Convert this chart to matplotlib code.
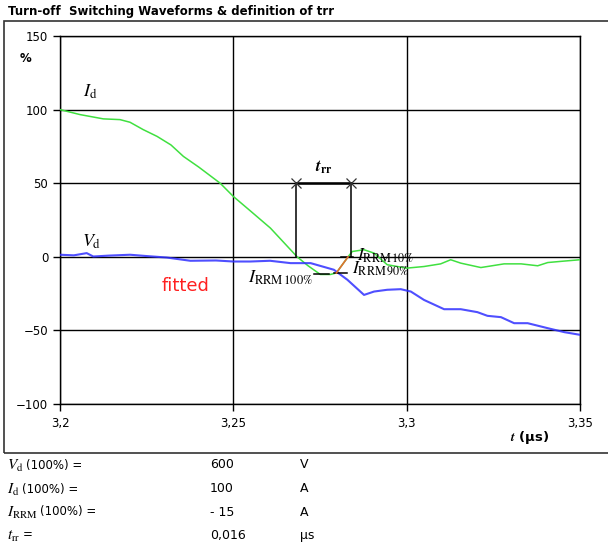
import matplotlib
matplotlib.use("Agg")
import matplotlib.pyplot as plt
from matplotlib.patches import Rectangle

plt.rcParams['font.family'] = ['DejaVu Sans']
plt.rcParams['mathtext.fontset'] = 'stix'

# Diode turn-off waveforms (% of nominal) vs time (us)
t_id = [3.2, 3.2058, 3.2125, 3.2173, 3.2202, 3.224, 3.228, 3.232, 3.2356, 3.24,
        3.2462, 3.25, 3.255, 3.2607, 3.2665, 3.2684, 3.2715, 3.2751, 3.278, 3.2797,
        3.2831, 3.2843, 3.2877, 3.2906, 3.2944, 3.3, 3.305, 3.3098, 3.3127, 3.3156,
        3.3214, 3.3281, 3.333, 3.3378, 3.3407, 3.345, 3.35]
i_d = [100, 96.6, 93.7, 93.2, 91.4, 86.4, 81.8, 76, 68.2, 61,
       50, 41, 31, 19.5, 4.8, 0, -6, -12, -12, -11,
       0, 3.6, 4.8, 2.5, -5.4, -7.7, -6.6, -4.8, -2, -4.3,
       -7.3, -4.8, -4.8, -6.1, -3.9, -3, -2]

t_vd = [3.2, 3.204, 3.2077, 3.2096, 3.214, 3.2202, 3.225, 3.2308, 3.2376, 3.245,
        3.25, 3.2549, 3.2606, 3.2665, 3.2723, 3.279, 3.2829, 3.2877, 3.2906, 3.2944,
        3.2983, 3.3012, 3.305, 3.3108, 3.3156, 3.3204, 3.3233, 3.3272, 3.331, 3.3349,
        3.3407, 3.3455, 3.35]
v_d = [1.4, 1.0, 2.5, 0.2, 0.8, 1.4, 0.5, -0.5, -2.7, -2.5,
       -3.2, -3.2, -2.7, -4.3, -4.3, -8.8, -15.6, -25.9, -23.6, -22.4,
       -22, -23.6, -29.3, -35.6, -35.6, -37.6, -40.1, -41, -45.1, -45.1,
       -48.5, -51.2, -53]

# trr construction
t_start, t_end = 3.268, 3.284
trr_level = 50
irrm_level = -12
irrm90 = (3.2797, -11)
irrm10 = (3.2831, 0)

# parameter table: symbol, rest of label, value, unit
table_symbols = [r'$V_\mathrm{d}$', r'$I_\mathrm{d}$', r'$I_\mathrm{RRM}$', r'$t_\mathrm{rr}$']
table_suffix = ['(100%) =', '(100%) =', '(100%) =', '=']
table_values = ['600', '100', '- 15', '0,016']
table_units = ['V', 'A', 'A', 'µs']

fig = plt.figure(figsize=(6.08, 5.45), dpi=100)
fig.patches.append(Rectangle((4 / 608, 1 - 453 / 545), 610 / 608, (453 - 21) / 545,
                             transform=fig.transFigure, fill=False,
                             edgecolor='#333333', linewidth=1.2))
fig.text(8 / 608, 1 - 12 / 545, 'Turn-off  Switching Waveforms & definition of trr',
         fontsize=8.5, fontweight='bold', va='center', ha='left')

ax = fig.add_axes([60 / 608, 1 - 404 / 545, 520 / 608, 368 / 545])
ax.plot(t_id, i_d, color='#40e040', linewidth=1.1, zorder=3)
ax.plot(t_vd, v_d, color='#3030ff', linewidth=1.5, alpha=0.85, zorder=3)

# trr markers
ax.plot([t_start, t_start], [0, trr_level], color='black', linewidth=1.1, zorder=4)
ax.plot([t_end, t_end], [0, trr_level], color='black', linewidth=1.1, zorder=4)
ax.plot([t_start, t_end], [trr_level, trr_level], color='black', linewidth=1.8, zorder=4)
ax.plot([t_start, t_end], [trr_level, trr_level], linestyle='none', marker='x',
        color='#333333', markersize=7, markeredgewidth=0.9, zorder=5)
ax.text((t_start + t_end) / 2, 55, r'$\boldsymbol{t}_\mathbf{rr}$', fontsize=12,
        ha='center', va='bottom')

# IRRM reference lines
ax.plot([3.2732, 3.2776], [irrm_level, irrm_level], color='black', linewidth=1.1, zorder=4)
ax.plot([3.2790, 3.2829], [irrm90[1], irrm90[1]], color='black', linewidth=1.1, zorder=4)
ax.plot([3.2810, 3.2845], [irrm10[1], irrm10[1]], color='black', linewidth=1.1, zorder=4)
ax.plot([irrm90[0], irrm10[0]], [irrm90[1], irrm10[1]], color='#e07030', linewidth=1.2, zorder=4)

ax.text(3.2730, -14, r'$I_\mathrm{RRM\,100\%}$', fontsize=13, ha='right', va='center')
ax.text(3.2858, 0.5, r'$I_\mathrm{RRM\,10\%}$', fontsize=12.5, ha='left', va='center')
ax.text(3.2843, -8.5, r'$I_\mathrm{RRM\,90\%}$', fontsize=12.5, ha='left', va='center')

ax.text(3.2087, 112, r'$I_\mathrm{d}$', fontsize=13, ha='center', va='center')
ax.text(3.2090, 10.5, r'$V_\mathrm{d}$', fontsize=13, ha='center', va='center')
ax.text(3.2363, -20, 'fitted', fontsize=13, color='#ff2020', ha='center', va='center')

ax.set_xlim(3.2, 3.35)
ax.set_ylim(-100, 150)
ax.set_xticks([3.2, 3.25, 3.3, 3.35])
ax.set_xticklabels(['3,2', '3,25', '3,3', '3,35'])
ax.set_yticks([-100, -50, 0, 50, 100, 150])
ax.grid(True, color='black', linewidth=1.0)
ax.set_axisbelow(True)
for s in ax.spines.values():
    s.set_color('black')
    s.set_linewidth(1.0)
ax.tick_params(axis='both', direction='out', length=5, width=1, labelsize=8.5, colors='black')
ax.tick_params(axis='x', pad=4)

fig.text(20 / 608, 1 - 58 / 545, '%', fontsize=8.5, fontweight='bold', ha='left', va='center')
fig.text(530 / 608, 1 - 437 / 545, r'$\boldsymbol{t}$ (µs)', fontsize=9.5,
         fontweight='bold', ha='center', va='center')

# parameter table below the chart
row_y = [465, 489, 512, 535]
for sym, suf, val, unit, y in zip(table_symbols, table_suffix,
                                  table_values, table_units, row_y):
    fy = 1 - y / 545
    sym_txt = fig.text(7 / 608, fy - 1 / 545, sym, fontsize=11, ha='left', va='center')
    ax.annotate(suf, xy=(1, fy), xycoords=(sym_txt, 'figure fraction'),
                xytext=(1.5, 0), textcoords='offset points',
                fontsize=8.5, ha='left', va='center', annotation_clip=False)
    fig.text(210 / 608, fy, val, fontsize=9, ha='left', va='center')
    fig.text(300 / 608, fy, unit, fontsize=9, ha='left', va='center')

fig.savefig('out.png', dpi=100)
